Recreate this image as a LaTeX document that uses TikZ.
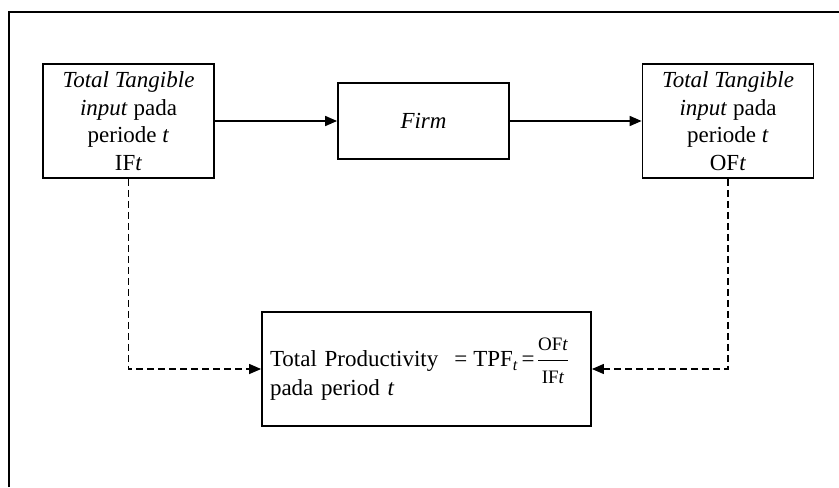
\documentclass[tikz,border=0pt]{standalone}
\usepackage{amsmath}
\usepackage{fontspec}
\setmainfont{Liberation Serif}
\usetikzlibrary{arrows.meta,positioning}

\begin{document}
\begin{tikzpicture}[x=0.5pt,y=-0.5pt,
      box/.style={draw,line width=0.9pt,inner sep=0pt,align=center,font=\fontsize{11.5}{13.8}\selectfont},
      arr/.style={-{Triangle[length=6pt,width=5pt]},line width=0.8pt},
      darr/.style={arr,dash pattern=on 3.5pt off 2pt,line width=0.6pt}]
    \useasboundingbox (0,0) rectangle (839,487);
    % outer frame
    \draw[line width=1.2pt] (9,487) -- (9,12) -- (839,12);
    \node[box,minimum width=85.5pt,minimum height=57pt] (inputF) at (128.5,121)
      {\textit{Total Tangible}\\\textit{input} pada\\periode \textit{t}\\IF\textit{t}};
    \node[box,minimum width=85.5pt,minimum height=38pt] (firm) at (423.5,121) {\textit{Firm}};
    \node[box,minimum width=85.5pt,minimum height=57pt] (outputF) at (728,121)
      {\textit{Total Tangible}\\\textit{input} pada\\periode \textit{t}\\OF\textit{t}};
    \node[box,align=left,text width=156.5pt,inner xsep=4pt,minimum height=57pt] (prod) at (426.5,369)
      {\mbox{Total Productivity\hspace{8pt}=\hspace{3pt}TPF\textsubscript{\textit{t}}\hspace{1.5pt}=\hspace{0.5pt}$\dfrac{\text{\fontsize{9.5}{11}\selectfont OF\textit{t}}}{\text{\fontsize{9.5}{11}\selectfont IF\textit{t}}}$}\\[-3pt]pada period \textit{t}\\[15pt]};
    \draw[arr] (inputF) -- (firm);
    \draw[arr] (firm) -- (outputF);
    \draw[darr] (inputF.south) |- (prod.west);
    \draw[darr] (outputF.south) |- (prod.east);
  \end{tikzpicture}
\end{document}
